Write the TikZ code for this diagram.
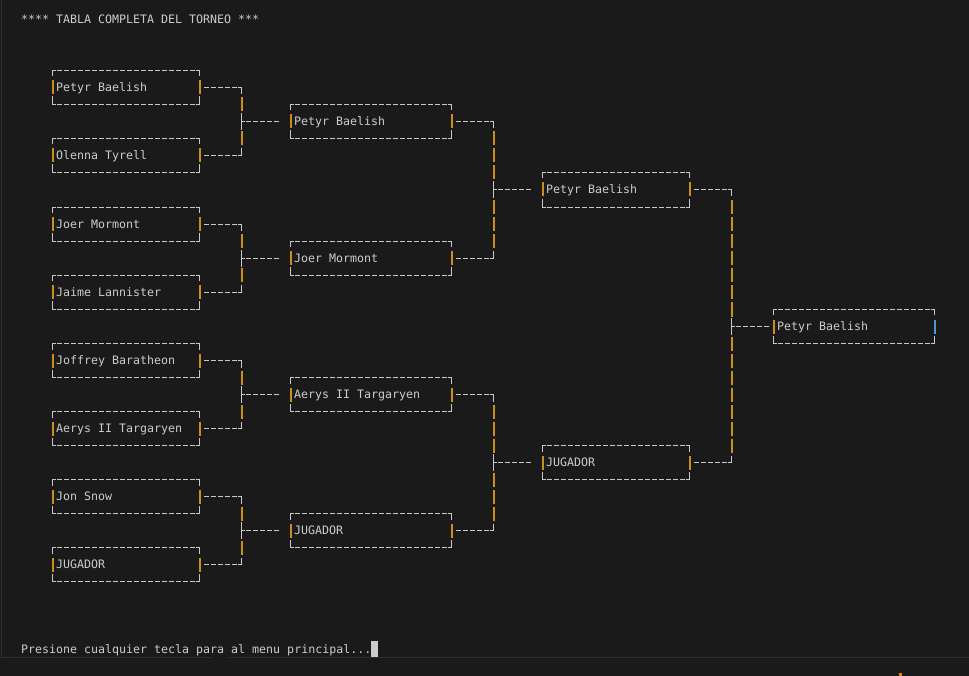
\documentclass[tikz,border=0pt]{standalone}
\usepackage{fontspec}
\setmonofont{DejaVu Sans Mono}
\usetikzlibrary{calc}
\definecolor{bg}{HTML}{1A1A1A}
\definecolor{fg}{HTML}{CCCCCC}
\definecolor{ln}{HTML}{C8C8C8}
\definecolor{org}{RGB}{205,140,30}
\definecolor{blu}{RGB}{80,150,210}
\definecolor{sep}{HTML}{2E2E2E}
\tikzset{
 txt/.style={font=\ttfamily\fontsize{11.63}{14}\selectfont, text=fg, inner sep=0pt, anchor=base west},
 gl/.style={draw=ln, line width=1pt},
 dl/.style={draw=ln, line width=1pt, dash pattern=on 4.5pt off 2.5pt, dash phase=5.75pt},
 bar/.style={draw=org, line width=2pt},
}
\newcommand\rowy[2]{\pgfmathsetmacro#1{floor(19.68+17.03*(#2))+0.5}}
% box: [right bar colour] name, first col, last col, row, text
\newcommand\tbox[6][org]{%
 \pgfmathsetmacro\xa{24.5+7*#3}%
 \pgfmathsetmacro\xb{24.5+7*#4}%
 \rowy\ym{#5}\rowy\yt{#5-1}\rowy\yb{#5+1}%
 \coordinate (#2-L) at (\xa,\ym);
 \coordinate (#2-R) at (\xb,\ym);
 \node[txt] (#2) at (\xa+3.5,\ym+4) {#6};
 \draw[gl] (\xa,\yt+6) -- (\xa,\yt) -- (\xa+3.5,\yt);
 \draw[dl] (\xa+3.5,\yt) -- (\xb-3.5,\yt);
 \draw[gl] (\xb-3.5,\yt) -- (\xb,\yt) -- (\xb,\yt+6);
 \draw[gl] (\xa,\yb-8) -- (\xa,\yb) -- (\xa+3.5,\yb);
 \draw[dl] (\xa+3.5,\yb) -- (\xb-3.5,\yb);
 \draw[gl] (\xb-3.5,\yb) -- (\xb,\yb) -- (\xb,\yb-8);
 \draw[bar] (\xa+0.5,\ym-7) -- (\xa+0.5,\ym+7);
 \draw[bar,draw=#1] (\xb+0.5,\ym-7) -- (\xb+0.5,\ym+7);
}
% connector: top name, bottom name, corner col, top row, bottom row, middle row
\newcommand\tconn[6]{%
 \pgfmathsetmacro\xc{24.5+7*#3}%
 \rowy\yt{#4}\rowy\yb{#5}\rowy\ymid{#6}%
 \draw[dl] ($(#1-R)+(3.5,0)$) -- (\xc-3.5,\yt);
 \draw[gl] (\xc-3.5,\yt) -- (\xc,\yt) -- (\xc,\yt+7);
 \draw[dl] ($(#2-R)+(3.5,0)$) -- (\xc-3.5,\yb);
 \draw[gl] (\xc-3.5,\yb) -- (\xc,\yb) -- (\xc,\yb-7);
 \pgfmathtruncatemacro\ra{#4+1}\pgfmathtruncatemacro\rb{#5-1}%
 \foreach \r in {\ra,...,\rb}{%
   \ifnum\r=#6\relax\else
   \rowy\yr{\r}%
   \draw[bar] (\xc+0.5,\yr-7) -- (\xc+0.5,\yr+7);
   \fi}
 \draw[gl] (\xc,\ymid-8.5) -- (\xc,\ymid+8.5);
 \draw[gl] (\xc,\ymid) -- (\xc+3.5,\ymid);
 \draw[dl] (\xc+3.5,\ymid) -- (\xc+38.5,\ymid);
}
\begin{document}
\begin{tikzpicture}[x=1pt,y=-1pt]
\fill[bg] (0,0) rectangle (969,676);
\useasboundingbox (0,0) rectangle (969,676);
\draw[sep,line width=1pt] (1.5,0) -- (1.5,657);
\draw[sep,line width=1pt] (0,657.5) -- (212,657.5);
\draw[sep,line width=1pt] (229,657.5) -- (969,657.5);
\fill[org] (899,673) rectangle (902,676);

\node[txt] (title) at (21,23.68) {**** TABLA COMPLETA DEL TORNEO ***};

\tbox{a1}{4}{25}{4}{Petyr Baelish}
\tbox{a2}{4}{25}{8}{Olenna Tyrell}
\tbox{a3}{4}{25}{12}{Joer Mormont}
\tbox{a4}{4}{25}{16}{Jaime Lannister}
\tbox{a5}{4}{25}{20}{Joffrey Baratheon}
\tbox{a6}{4}{25}{24}{Aerys II Targaryen}
\tbox{a7}{4}{25}{28}{Jon Snow}
\tbox{a8}{4}{25}{32}{JUGADOR}

\tbox{b1}{38}{61}{6}{Petyr Baelish}
\tbox{b2}{38}{61}{14}{Joer Mormont}
\tbox{b3}{38}{61}{22}{Aerys II Targaryen}
\tbox{b4}{38}{61}{30}{JUGADOR}

\tbox{c1}{74}{95}{10}{Petyr Baelish}
\tbox{c2}{74}{95}{26}{JUGADOR}

\tbox[blu]{d1}{107}{130}{18}{Petyr Baelish}

\tconn{a1}{a2}{31}{4}{8}{6}
\tconn{a3}{a4}{31}{12}{16}{14}
\tconn{a5}{a6}{31}{20}{24}{22}
\tconn{a7}{a8}{31}{28}{32}{30}
\tconn{b1}{b2}{67}{6}{14}{10}
\tconn{b3}{b4}{67}{22}{30}{26}
\tconn{c1}{c2}{101}{10}{26}{18}

\node[txt] (prompt) at (21,653.79) {Presione cualquier tecla para al menu principal...};
\fill[fg] (371,640.5) rectangle (378,656.5);
\end{tikzpicture}
\end{document}
